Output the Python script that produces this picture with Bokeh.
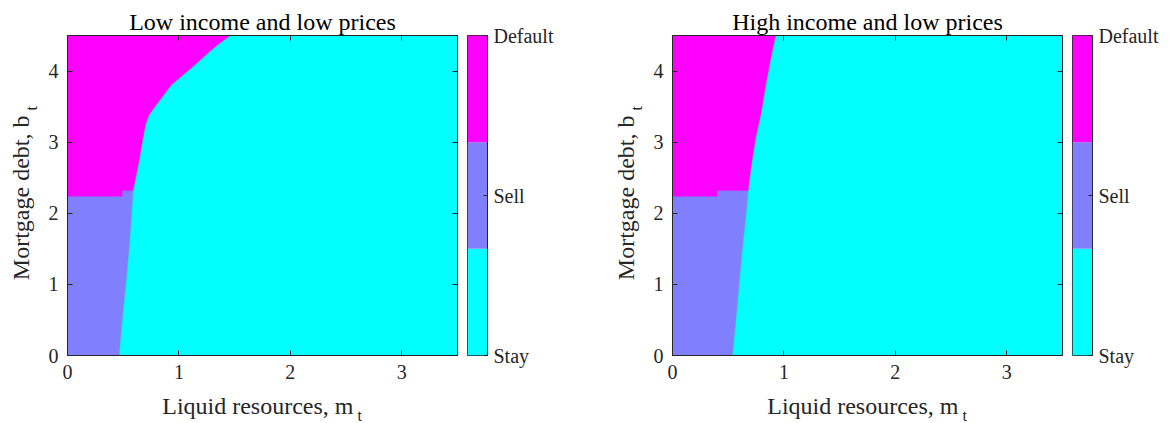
import math
from bokeh.plotting import figure
from bokeh.layouts import row
from bokeh.models import Label, LinearAxis, FixedTicker, Range1d
from bokeh.embed import file_html
from bokeh.resources import INLINE

# ---------------- data ----------------
M_MAX = 3.5
B_MAX = 4.5
x_ticks = [0, 1, 2, 3]
y_ticks = [0, 1, 2, 3, 4]
titles = ["Low income and low prices", "High income and low prices"]
x_label = "Liquid resources, m"
y_label = "Mortgage debt, b"
sub_label = "t"
state_levels = [1, 2, 3]
state_labels = ["Stay", "Sell", "Default"]
state_colors = ["#00FFFF", "#8080FF", "#FF00FF"]

# Left panel (low income): region boundaries
L_sell_top_b = [2.24, 2.32]
L_sell_step_m = 0.49
L_sell_stay_m = [0.462, 0.490, 0.523, 0.553, 0.573, 0.588]
L_sell_stay_b = [0.00, 0.49, 1.01, 1.53, 1.95, 2.32]
L_def_stay_m = [0.588, 0.613, 0.643, 0.673, 0.700, 0.730, 0.770, 0.838, 0.928, 1.018, 1.138, 1.258, 1.348, 1.460]
L_def_stay_b = [2.32, 2.51, 2.75, 3.03, 3.25, 3.38, 3.47, 3.61, 3.80, 3.92, 4.08, 4.25, 4.37, 4.50]

# Right panel (high income)
R_sell_top_b = [2.24, 2.32]
R_sell_step_m = 0.40
R_sell_stay_m = [0.537, 0.567, 0.597, 0.628, 0.657, 0.678]
R_sell_stay_b = [0.00, 0.49, 1.01, 1.53, 1.95, 2.32]
R_def_stay_m = [0.678, 0.709, 0.748, 0.793, 0.838, 0.883, 0.925]
R_def_stay_b = [2.32, 2.70, 3.08, 3.40, 3.82, 4.19, 4.50]

FONT = "Liberation Serif"
INK = "#262626"


def style_axis(ax, ticks, show_labels=True):
    ax.ticker = FixedTicker(ticks=ticks)
    ax.major_tick_in = 5
    ax.major_tick_out = 0
    ax.minor_tick_line_color = None
    ax.axis_line_color = INK
    ax.major_tick_line_color = INK
    ax.major_label_text_font = FONT
    ax.major_label_text_color = INK
    if show_labels:
        ax.major_label_text_font_size = "20px"
        ax.major_label_standoff = 9
    else:
        ax.major_label_text_font_size = "0px"
        ax.major_label_text_color = None
        ax.major_label_standoff = 0


def panel(title, sell_top_b, step_m, ss_m, ss_b, ds_m, ds_b, left_border):
    p = figure(frame_width=390, frame_height=320, min_border_left=left_border,
               min_border_right=10, min_border_top=35, min_border_bottom=68,
               x_range=Range1d(0, M_MAX), y_range=Range1d(0, B_MAX),
               toolbar_location=None, output_backend="svg")
    p.grid.visible = False
    p.outline_line_color = INK
    p.background_fill_color = "white"
    p.border_fill_color = "white"

    # Stay everywhere, then Sell and Default on top
    p.quad(left=[0], right=[M_MAX], bottom=[0], top=[B_MAX],
           fill_color=state_colors[0], line_color=None)
    sell_x = [0] + ss_m + [step_m, step_m, 0]
    sell_y = [0] + ss_b + [sell_top_b[1], sell_top_b[0], sell_top_b[0]]
    p.patch(sell_x, sell_y, fill_color=state_colors[1], line_color=state_colors[1], line_width=0.5)
    def_x = [0, step_m, step_m] + ds_m + [0]
    def_y = [sell_top_b[0], sell_top_b[0], sell_top_b[1]] + ds_b + [B_MAX]
    p.patch(def_x, def_y, fill_color=state_colors[2], line_color=state_colors[2], line_width=0.5)

    style_axis(p.xaxis[0], x_ticks)
    style_axis(p.yaxis[0], y_ticks)
    top_ax = LinearAxis()
    style_axis(top_ax, x_ticks, False)
    p.add_layout(top_ax, "above")
    right_ax = LinearAxis()
    style_axis(right_ax, y_ticks, False)
    p.add_layout(right_ax, "right")

    # title
    p.add_layout(Label(x=M_MAX / 2, y=B_MAX, y_offset=14, text=title, text_align="center",
                       text_baseline="alphabetic", text_font=FONT, text_font_size="24px",
                       text_color="black"), "above")
    # x label with subscript
    p.add_layout(Label(x=M_MAX / 2, y=0, x_offset=91, y_offset=-50, text=x_label,
                       text_align="right", text_baseline="alphabetic", text_font=FONT,
                       text_font_size="24px", text_color=INK), "below")
    p.add_layout(Label(x=M_MAX / 2, y=0, x_offset=95, y_offset=-60, text=sub_label,
                       text_align="left", text_baseline="alphabetic", text_font=FONT,
                       text_font_size="16px", text_color=INK), "below")
    # y label with subscript
    p.add_layout(Label(x=0, y=B_MAX / 2, x_offset=-47, y_offset=80, text=y_label,
                       angle=math.pi / 2, text_align="right", text_baseline="alphabetic",
                       text_font=FONT, text_font_size="24px", text_color=INK), "left")
    p.add_layout(Label(x=0, y=B_MAX / 2, x_offset=-36, y_offset=85, text=sub_label,
                       angle=math.pi / 2, text_align="left", text_baseline="alphabetic",
                       text_font=FONT, text_font_size="16px", text_color=INK), "left")
    return p


def colorbar(right_border):
    lo, hi = state_levels[0], state_levels[-1]
    n = len(state_levels)
    step = (hi - lo) / n
    c = figure(frame_width=20, frame_height=320, min_border_left=0,
               min_border_right=right_border, min_border_top=35, min_border_bottom=68,
               x_range=Range1d(0, 1), y_range=Range1d(lo, hi),
               x_axis_location=None, y_axis_location="right",
               toolbar_location=None, output_backend="svg")
    c.grid.visible = False
    c.outline_line_color = INK
    c.quad(left=[0] * n, right=[1] * n,
           bottom=[lo + i * step for i in range(n)],
           top=[lo + (i + 1) * step for i in range(n)],
           fill_color=state_colors, line_color=None)
    ax = c.yaxis[0]
    ax.ticker = FixedTicker(ticks=state_levels)
    ax.major_label_overrides = {lv: lab for lv, lab in zip(state_levels, state_labels)}
    ax.major_tick_in = 4
    ax.major_tick_out = 0
    ax.minor_tick_line_color = None
    ax.axis_line_color = INK
    ax.major_tick_line_color = INK
    ax.major_label_text_font = FONT
    ax.major_label_text_font_size = "20px"
    ax.major_label_text_color = INK
    ax.major_label_standoff = 6
    return c


p1 = panel(titles[0], L_sell_top_b, L_sell_step_m, L_sell_stay_m, L_sell_stay_b,
           L_def_stay_m, L_def_stay_b, 67)
c1 = colorbar(90)
p2 = panel(titles[1], R_sell_top_b, R_sell_step_m, R_sell_stay_m, R_sell_stay_b,
           R_def_stay_m, R_def_stay_b, 95)
c2 = colorbar(78)

layout = row(p1, c1, p2, c2)
open("out.html", "w").write(file_html(layout, INLINE))
